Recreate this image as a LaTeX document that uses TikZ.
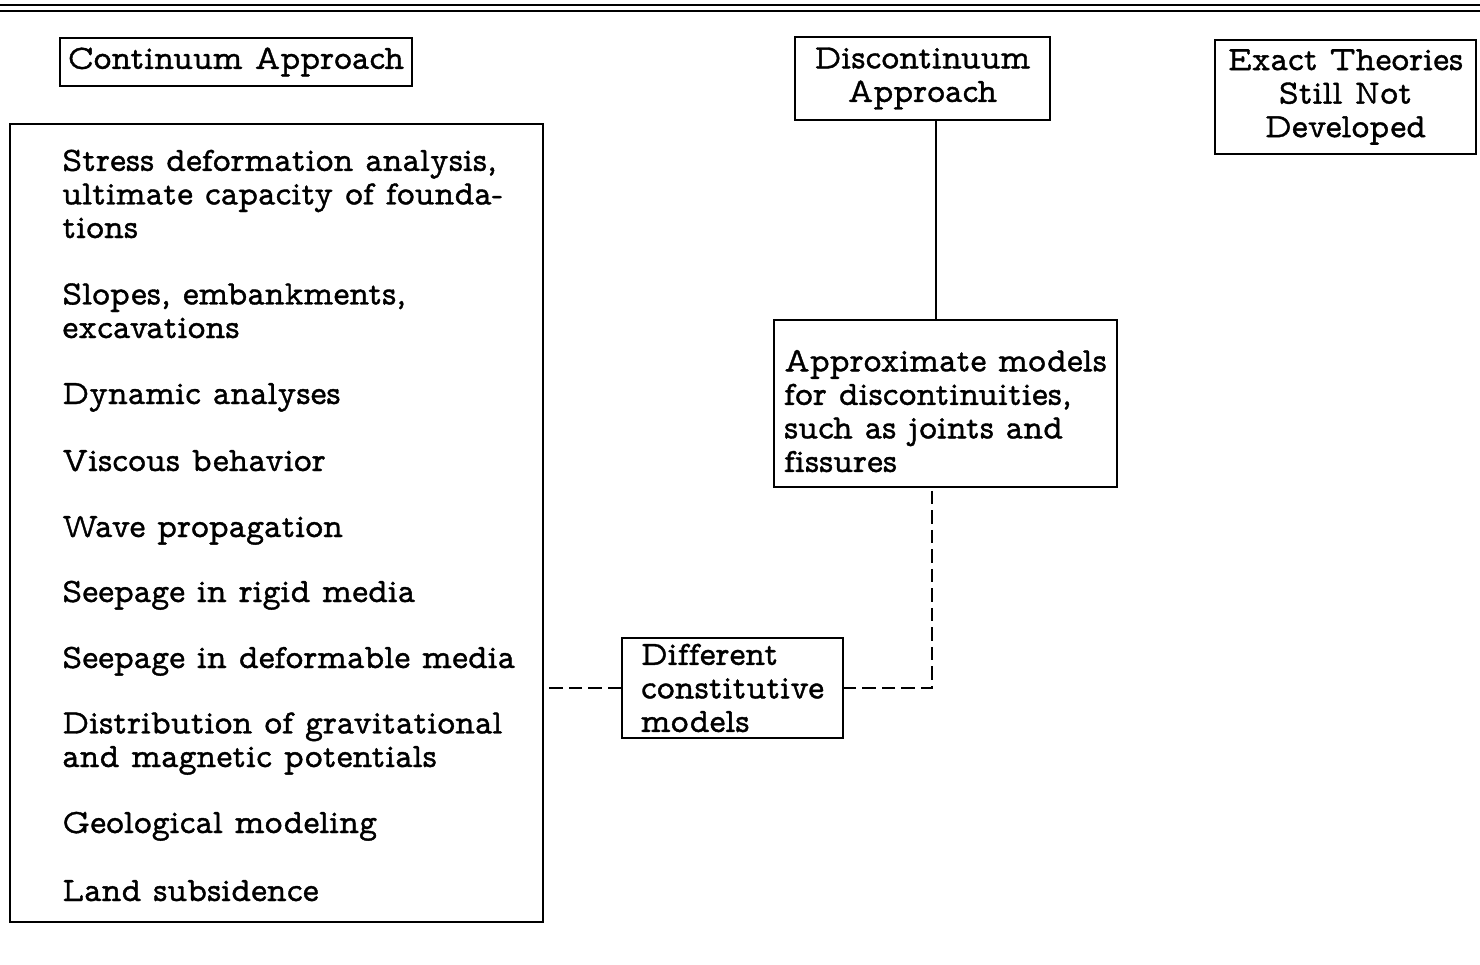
\documentclass[tikz,border=0pt]{standalone}
\usepackage{fontspec}
\newfontfamily\tw[FakeBold=1.1,Ligatures=NoCommon]{lmmonoprop10-regular.otf}
\begin{document}
\begin{tikzpicture}[x=0.02cm,y=-0.02cm]
\tikzset{
  box/.style={draw, line width=1.1pt, inner sep=0pt},
  txt/.style={font=\tw\fontsize{19.4}{19.1}\selectfont},
  item/.style={txt, inner sep=0pt, anchor=base west, align=left},
  dashline/.style={line width=1.2pt, dash pattern=on 7.5pt off 3.6pt},
  solidline/.style={line width=1.1pt}
}
\useasboundingbox (0,0) rectangle (1480,964);
% top rules
\draw[line width=1.3pt] (0,5) -- (1480,5);
\draw[line width=1.1pt] (0,11) -- (1480,11);

% boxes
\node[box, txt, minimum width=7.04cm, minimum height=0.96cm] (cont) at (236,62) {Continuum Approach};
\node[box, txt, align=center, minimum width=5.1cm, minimum height=1.66cm] (disc) at (922.5,78.5) {Discontinuum\\Approach};
\node[box, txt, align=center, minimum width=5.22cm, minimum height=2.28cm] (exact) at (1345.5,97) {Exact Theories\\Still Not\\Developed};
\node[box, txt, align=left, text height=2.74cm, text depth=0cm, minimum width=6.86cm, minimum height=3.34cm] (appr) at (945.5,403.5) {Approximate models\\for discontinuities,\\such as joints and\\fissures};
\node[box, txt, align=left, minimum width=4.42cm, minimum height=2.0cm] (diff) at (732.5,688) {Different\\constitutive\\models};
\node[box, minimum width=10.66cm, minimum height=15.96cm] (cbox) at (276.5,523) {};

% items (anchor = baseline of last line)
\node[item] (i1) at (62,238) {Stress deformation analysis,\\ultimate capacity of founda-\\tions};
\node[item] (i2) at (62,338) {Slopes, embankments,\\excavations};
\node[item] (i3) at (62,404) {Dynamic analyses};
\node[item] (i4) at (62,471) {Viscous behavior};
\node[item] (i5) at (62,537) {Wave propagation};
\node[item] (i6) at (62,602) {Seepage in rigid media};
\node[item] (i7) at (62,668) {Seepage in deformable media};
\node[item] (i8) at (62,767) {Distribution of gravitational\\and magnetic potentials};
\node[item] (i9) at (62,833) {Geological modeling};
\node[item] (i10) at (62,901) {Land subsidence};

% connectors
\coordinate (dj) at ([xshift=0.27cm]disc.south);
\draw[solidline] (dj) -- (dj |- appr.north);
\coordinate (aj) at ([xshift=-0.27cm]appr.south);
\draw[dashline] ([yshift=-0.06cm]aj) -- (aj |- diff.east) -- (diff.east);
\draw[dashline] (diff.west) -- ([xshift=0.1cm]diff.west -| cbox.east);
\end{tikzpicture}
\end{document}
